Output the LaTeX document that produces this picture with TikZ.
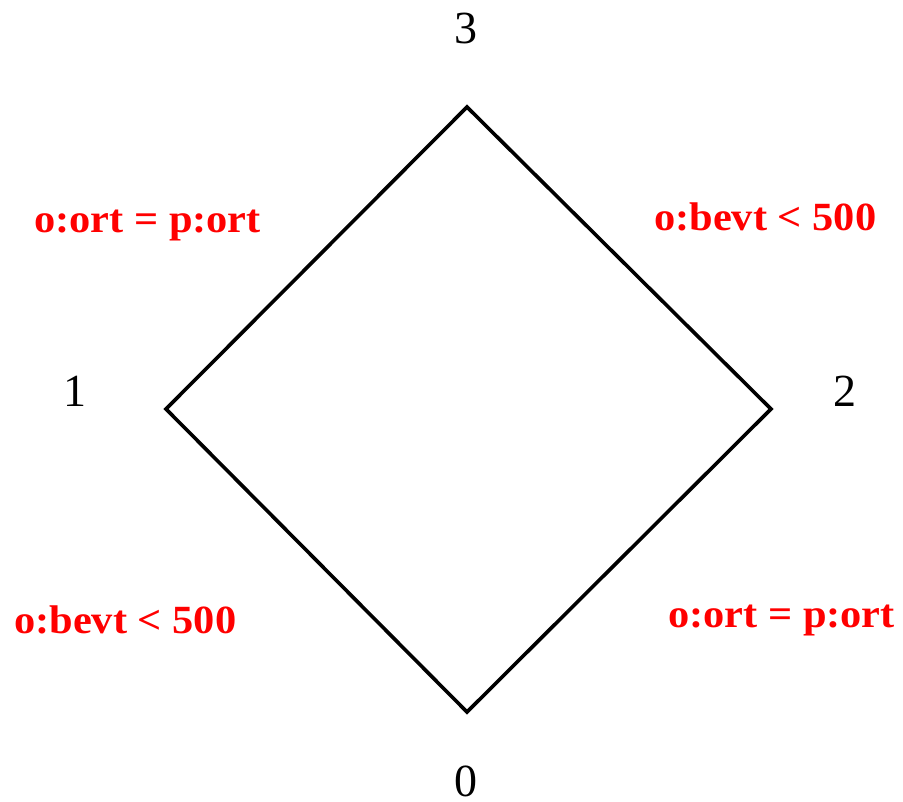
\documentclass[tikz,border=0pt]{standalone}
\usepackage{fontspec}
\setmainfont{Liberation Serif}
\begin{document}
\begin{tikzpicture}[x=1pt,y=-1pt,
  vlabel/.style={inner sep=0pt,anchor=base,text depth=0pt,font=\fontsize{46}{50}\selectfont},
  cond/.style={inner sep=0pt,anchor=base west,text=red,font=\fontsize{40}{44}\selectfont\bfseries},
  edge/.style={line width=3.6pt,line join=miter}]
\useasboundingbox (0,0) rectangle (903,802);
\coordinate (v3) at (467,107);
\coordinate (v1) at (166,409);
\coordinate (v2) at (771,409);
\coordinate (v0) at (467,712);
\draw[edge] (v0) -- (v1) -- (v3) -- (v2) -- cycle;
\node[vlabel] (l3) at (466,44) {3};
\node[vlabel] (l1) at (75,407) {1};
\node[vlabel] (l2) at (845,407) {2};
\node[vlabel] (l0) at (466,796) {0};
\node[cond] (c13) at (34,233) {\scalebox{1.06}[1]{o:ort = p:ort}};
\node[cond] (c32) at (654,231) {\scalebox{1.06}[1]{o:bevt < 500}};
\node[cond] (c01) at (14,633) {\scalebox{1.06}[1]{o:bevt < 500}};
\node[cond] (c02) at (668,627) {\scalebox{1.06}[1]{o:ort = p:ort}};
\end{tikzpicture}
\end{document}
